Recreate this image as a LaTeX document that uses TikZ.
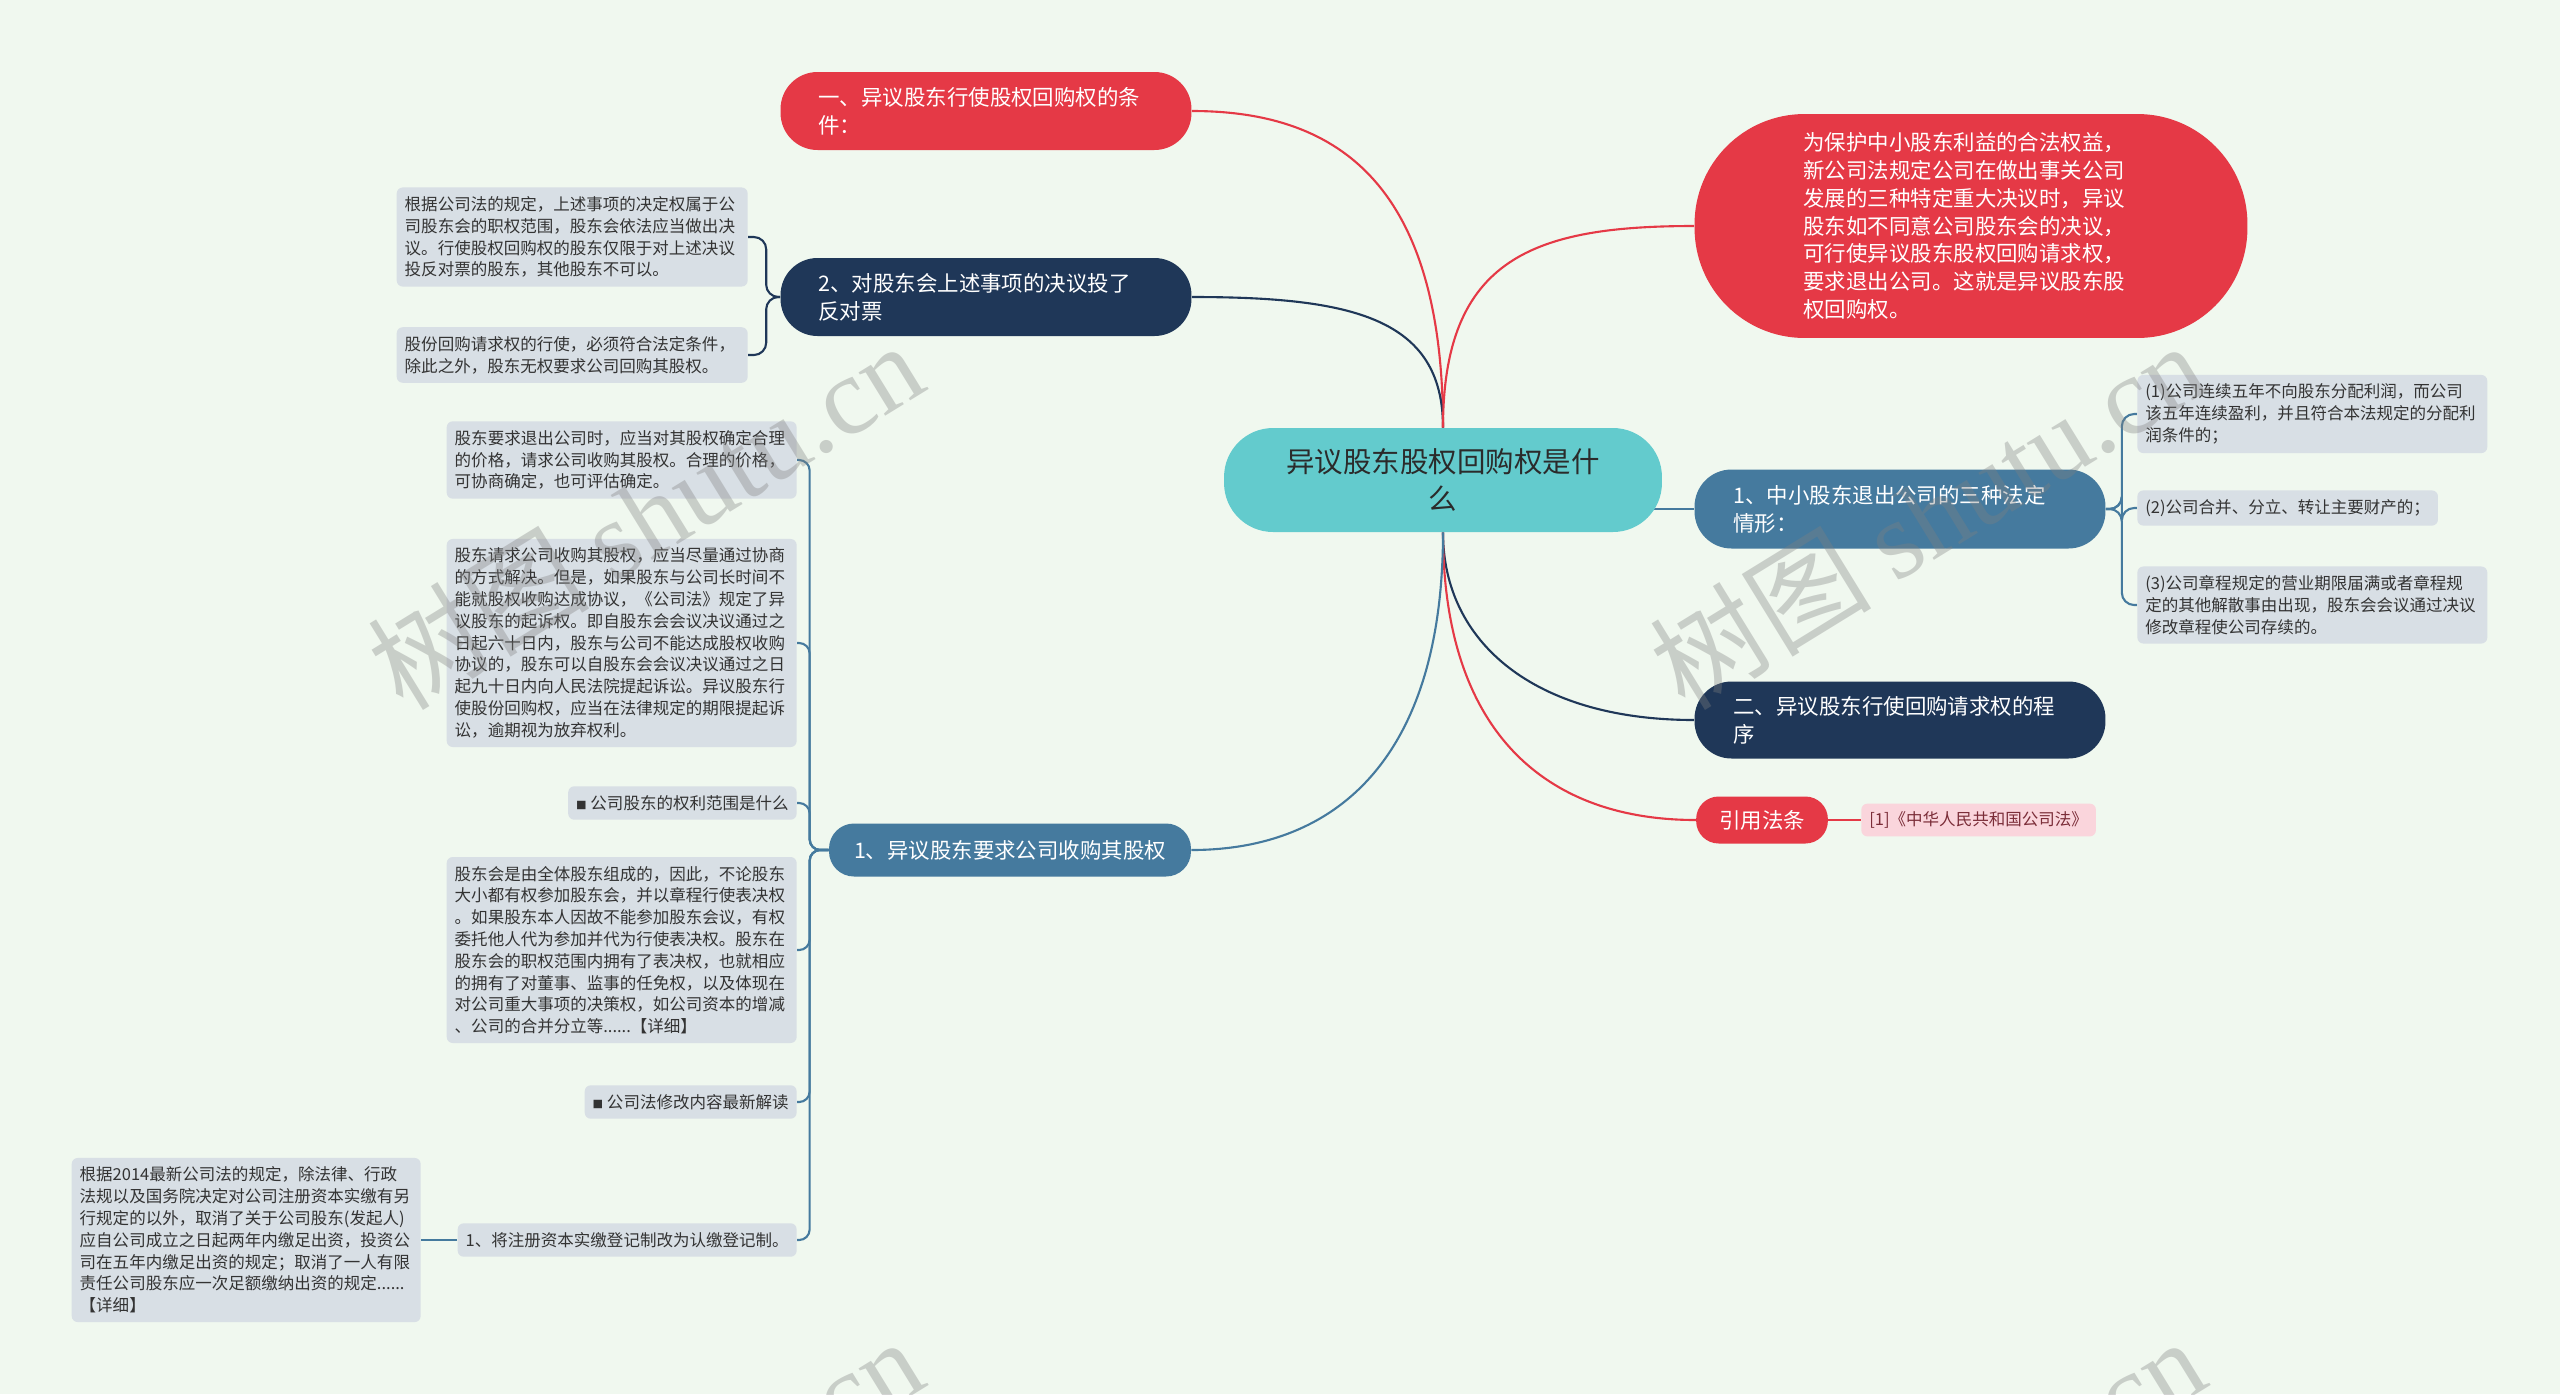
\documentclass[tikz,border=0pt]{standalone}
\usepackage{fontspec}
\setmainfont{Noto Sans CJK SC}
\newfontfamily\wmlatin{Liberation Serif}
\usepackage{tikz}
\usetikzlibrary{positioning, calc, backgrounds}

\definecolor{bgcol}{HTML}{F0F8EF}
\definecolor{rootcol}{HTML}{63CBCD}
\definecolor{roottext}{HTML}{2B2B2B}
\definecolor{redcol}{HTML}{E53946}
\definecolor{navycol}{HTML}{1F3758}
\definecolor{steelcol}{HTML}{457A9E}
\definecolor{leafcol}{HTML}{D8DFE5}
\definecolor{leaftext}{HTML}{333333}
\definecolor{pinkcol}{HTML}{FAD5DC}
\definecolor{citetext}{HTML}{7B2D38}

\newcommand{\rootfont}{\fontsize{16.2pt}{21.3pt}\selectfont}
\newcommand{\topicfont}{\fontsize{12.2pt}{15.8pt}\selectfont}
\newcommand{\leaffont}{\fontsize{9.4pt}{12.4pt}\selectfont}
\newcommand{\wmfont}{\fontsize{63pt}{63pt}\selectfont}
\newcommand{\bul}{{\fontsize{6pt}{6pt}\selectfont ■}}

\begin{document}
\begin{tikzpicture}[
    x=0.02cm, y=-0.02cm,
    root/.style={fill=rootcol, text=roottext, rounded corners=0.98cm, minimum width=8.76cm, minimum height=2.08cm, align=center, font=\rootfont},
    topic/.style={fill=#1, text=white, rounded corners=0.74cm, minimum height=1.56cm, inner xsep=0.76cm, align=left, font=\topicfont},
    leaf/.style={fill=leafcol, text=leaftext, rounded corners=0.12cm, inner xsep=0.16cm, inner ysep=0.18cm, align=left, font=\leaffont},
    cite/.style={fill=pinkcol, text=citetext, rounded corners=0.12cm, inner xsep=0.16cm, inner ysep=0.16cm, font=\leaffont},
    redline/.style={draw=redcol, line width=1.2pt},
    navyline/.style={draw=navycol, line width=1.2pt},
    steelline/.style={draw=steelcol, line width=1.2pt},
    wm/.style={text=gray, opacity=0.35, font=\wmfont, rotate=31.6}
]
    \useasboundingbox (0,0) rectangle (2560,1394);
    \clip (0,0) rectangle (2560,1394);

    % Root
    \node[root] (root) at (1443,480) {异议股东股权回购权是什\\么};

    % Left branches
    \node[topic=redcol, text width=6.7cm] (cond) at (986,111) {一、异议股东行使股权回购权的条\\件：};
    \node[topic=navycol, text width=6.7cm] (vote) at (986,297) {2、对股东会上述事项的决议投了\\反对票};
    \node[topic=steelcol, minimum height=1.06cm, rounded corners=0.5cm, inner xsep=0.5cm] (ask) at (1010,850) {1、异议股东要求公司收购其股权};

    % Right branches
    \node[topic=redcol, text width=6.7cm, inner xsep=2.18cm, minimum height=4.48cm, rounded corners=2.2cm] (intro) at (1971,226) {为保护中小股东利益的合法权益，\\新公司法规定公司在做出事关公司\\发展的三种特定重大决议时，异议\\股东如不同意公司股东会的决议，\\可行使异议股东股权回购请求权，\\要求退出公司。这就是异议股东股\\权回购权。};
    \node[topic=steelcol, text width=6.66cm, minimum height=1.58cm, inner xsep=0.78cm] (exit) at (1900,509) {1、中小股东退出公司的三种法定\\情形：};
    \node[topic=navycol, text width=6.66cm, minimum height=1.54cm, inner xsep=0.78cm] (proc) at (1900,720) {二、异议股东行使回购请求权的程\\序};
    \node[topic=redcol, minimum height=0.94cm, rounded corners=0.45cm, inner xsep=0.46cm] (law) at (1762,820) {引用法条};
    \node[cite, anchor=west] (lawref) at (1861,820) {[1]《中华人民共和国公司法》};

    % Leaves of vote
    \node[leaf, text width=6.7cm, anchor=east] (vote1) at (748,237) {根据公司法的规定，上述事项的决定权属于公\\司股东会的职权范围，股东会依法应当做出决\\议。行使股权回购权的股东仅限于对上述决议\\投反对票的股东，其他股东不可以。};
    \node[leaf, text width=6.7cm, anchor=east] (vote2) at (748,355) {股份回购请求权的行使，必须符合法定条件，\\除此之外，股东无权要求公司回购其股权。};

    % Leaves of exit
    \node[leaf, text width=6.68cm, anchor=west] (exit1) at (2137,414) {(1)公司连续五年不向股东分配利润，而公司\\该五年连续盈利，并且符合本法规定的分配利\\润条件的；};
    \node[leaf, anchor=west] (exit2) at (2137,508) {(2)公司合并、分立、转让主要财产的；};
    \node[leaf, text width=6.68cm, anchor=west] (exit3) at (2137,605) {(3)公司章程规定的营业期限届满或者章程规\\定的其他解散事由出现，股东会会议通过决议\\修改章程使公司存续的。};

    % Leaves of ask
    \node[leaf, text width=6.68cm, anchor=east] (ask1) at (797,460) {股东要求退出公司时，应当对其股权确定合理\\的价格，请求公司收购其股权。合理的价格，\\可协商确定，也可评估确定。};
    \node[leaf, text width=6.68cm, anchor=east] (ask2) at (797,643) {股东请求公司收购其股权，应当尽量通过协商\\的方式解决。但是，如果股东与公司长时间不\\能就股权收购达成协议，《公司法》规定了异\\议股东的起诉权。即自股东会会议决议通过之\\日起六十日内，股东与公司不能达成股权收购\\协议的，股东可以自股东会会议决议通过之日\\起九十日内向人民法院提起诉讼。异议股东行\\使股份回购权，应当在法律规定的期限提起诉\\讼，逾期视为放弃权利。};
    \node[leaf, anchor=east] (ask3) at (797,803) {\bul\ 公司股东的权利范围是什么};
    \node[leaf, text width=6.68cm, anchor=east] (ask4) at (797,950) {股东会是由全体股东组成的，因此，不论股东\\大小都有权参加股东会，并以章程行使表决权\\。如果股东本人因故不能参加股东会议，有权\\委托他人代为参加并代为行使表决权。股东在\\股东会的职权范围内拥有了表决权，也就相应\\的拥有了对董事、监事的任免权，以及体现在\\对公司重大事项的决策权，如公司资本的增减\\、公司的合并分立等......【详细】};
    \node[leaf, anchor=east] (ask5) at (797,1102) {\bul\ 公司法修改内容最新解读};
    \node[leaf, anchor=east] (ask6) at (797,1240) {1、将注册资本实缴登记制改为认缴登记制。};
    \node[leaf, text width=6.66cm, anchor=east] (reg) at (421,1240) {根据2014最新公司法的规定，除法律、行政\\法规以及国务院决定对公司注册资本实缴有另\\行规定的以外，取消了关于公司股东(发起人)\\应自公司成立之日起两年内缴足出资，投资公\\司在五年内缴足出资的规定；取消了一人有限\\责任公司股东应一次足额缴纳出资的规定......\\【详细】};

    % Connections
    \begin{scope}[on background layer]
        \fill[bgcol] (0,0) rectangle (2560,1394);
        \draw[redline] (root.north) .. controls +(0,-250) and +(140,0) .. (cond.east);
        \draw[navyline] (root.north) .. controls +(0,-110) and +(160,0) .. (vote.east);
        \draw[redline] (root.north) .. controls +(0,-170) and +(-160,0) .. (intro.west);
        \draw[steelline] ($(root.center |- exit.west)+(180,0)$) -- (exit.west);
        \draw[navyline] (root.south) .. controls +(0,110) and +(-160,0) .. (proc.west);
        \draw[redline] (root.south) .. controls +(0,200) and +(-150,0) .. (law.west);
        \draw[steelline] (root.south) .. controls +(0,220) and +(150,0) .. (ask.east);
        \draw[redline] (law.east) -- (lawref.west);
        \foreach \n in {vote1,vote2}
            \draw[navyline, rounded corners=7pt] (vote.west) -- ++(-14,0) |- (\n.east);
        \foreach \n in {exit1,exit2,exit3}
            \draw[steelline, rounded corners=7pt] (exit.east) -- ++(16,0) |- (\n.west);
        \foreach \n in {ask1,ask2,ask3,ask4,ask5,ask6}
            \draw[steelline, rounded corners=6pt] (ask.west) -- ++(-19,0) |- (\n.east);
        \draw[steelline] (ask6.west) -- (reg.east);
    \end{scope}

    % Watermarks
    \node[wm] (wmA) at (645,515) {树图 {\wmlatin shutu.cn}};
    \node[wm] (wmB) at (1927,515) {树图 {\wmlatin shutu.cn}};
    \node[wm] (wmC) at (645,1511) {树图 {\wmlatin shutu.cn}};
    \node[wm] (wmD) at (1927,1511) {树图 {\wmlatin shutu.cn}};
\end{tikzpicture}
\end{document}
